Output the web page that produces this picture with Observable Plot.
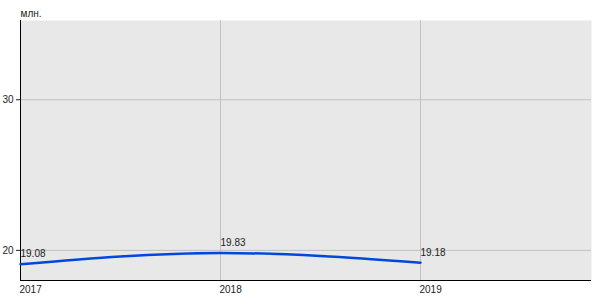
<!DOCTYPE html>
<html><head><meta charset="utf-8">
<script src="https://cdn.jsdelivr.net/npm/d3@7"></script>
<script src="https://cdn.jsdelivr.net/npm/@observablehq/plot@0.6"></script>
<style>body{margin:0;background:#fff;font-family:Arial,"Liberation Sans",sans-serif;}</style>
</head><body><div id="chart"></div>
<script>
const years = [2017, 2018, 2019];
const values = [19.08, 19.83, 19.18];
const labels = ["19.08", "19.83", "19.18"];
const yTicks = [20, 30];
const unitLabel = "млн.";
const data = years.map((y, i) => ({year: y, value: values[i], label: labels[i]}));

const chart = Plot.plot({
  width: 600, height: 300,
  marginLeft: 20, marginRight: 9, marginTop: 20, marginBottom: 20,
  style: {fontFamily: "Arial, 'Liberation Sans', sans-serif", fontSize: "10px", color: "#222", background: "#fff"},
  x: {domain: [2017, 2019.855], ticks: years, tickFormat: d => String(d)},
  y: {domain: [18, 35.26], ticks: yTicks},
  marks: [
    Plot.frame({fill: "#e8e8e8", stroke: null}),
    Plot.gridX(years, {stroke: "#c0c0c0", strokeOpacity: 1}),
    Plot.gridY(yTicks, {stroke: "#c0c0c0", strokeOpacity: 1}),
    Plot.axisX(years, {tickSize: 0, tickPadding: 5, textAnchor: "start", dx: -1, label: null, fill: "#222", fontSize: 10, tickFormat: d => String(d)}),
    Plot.axisY(yTicks, {tickSize: 4, tickPadding: 3, label: null, fill: "#222", fontSize: 10, tickFormat: d => String(d)}),
    Plot.ruleX([2017], {stroke: "#000", strokeWidth: 1}),
    Plot.ruleY([18], {stroke: "#000", strokeWidth: 1}),
    Plot.line(data, {x: "year", y: "value", stroke: "#0048dd", strokeWidth: 2.5, curve: "monotone-x"}),
    Plot.text(data, {x: "year", y: "value", text: "label", textAnchor: "start", dy: -10, dx: 0, fill: "#222", fontSize: 10}),
    Plot.text([unitLabel], {frameAnchor: "top-left", dy: -11, dx: 0, textAnchor: "start", fill: "#222", fontSize: 10})
  ]
});
document.getElementById("chart").appendChild(chart);
</script>
</body></html>
